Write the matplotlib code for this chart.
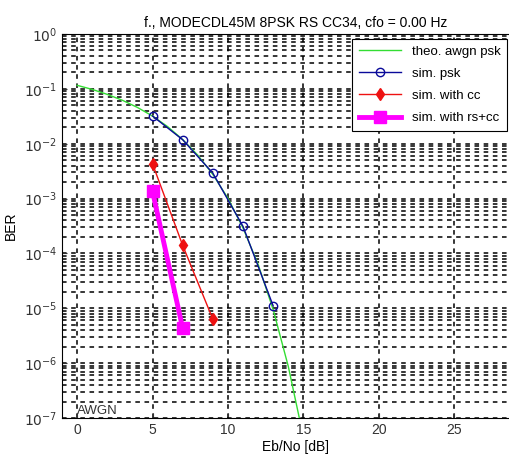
import numpy as np
import matplotlib
matplotlib.use('Agg')
import matplotlib.pyplot as plt
from matplotlib.ticker import FixedLocator, NullFormatter

plt.rcParams['font.family'] = ['Liberation Sans', 'DejaVu Sans']

# theoretical 8PSK in awgn
theo_x = [0, 1, 2, 3, 4, 5, 6, 7, 8, 9, 10, 11, 12, 13, 14, 15]
theo_ber = [0.116, 0.0977, 0.0793, 0.0619, 0.0458, 0.0319, 0.0205, 0.0119,
            0.00617, 0.00275, 0.00101, 2.9e-4, 6.3e-5, 9.4e-6, 8.7e-7, 4.5e-8]

psk_x = [5, 7, 9, 11, 13]
psk_ber = [0.032, 0.0118, 0.0029, 3.1e-4, 1.1e-5]

cc_x = [5, 7, 9]
cc_ber = [4.3e-3, 1.4e-4, 6.3e-6]

rscc_x = [5, 7]
rscc_ber = [1.35e-3, 4.3e-6]

decades = [-7, -6, -5, -4, -3, -2, -1, 0]

fig = plt.figure(figsize=(5.1, 4.58), dpi=100)
ax = fig.add_axes([0.1216, 0.0873, 0.917, 0.8385])

ax.semilogy(theo_x, theo_ber, '-', color='#33dd33', lw=1, label='theo. awgn psk')
ax.semilogy(psk_x, psk_ber, '-o', color='#0a0a9a', lw=1, ms=6,
            mfc='none', mew=1, label='sim. psk')
ax.semilogy(cc_x, cc_ber, '-d', color='#ee1111', lw=1, ms=6, label='sim. with cc')
ax.semilogy(rscc_x, rscc_ber, '-s', color='#ff00ff', lw=3.5, ms=8, label='sim. with rs+cc')

ax.set_xlim(-1, 30)
ax.set_ylim(1e-7, 1)
ax.set_xticks([0, 5, 10, 15, 20, 25])
ax.set_yticks([10.0 ** d for d in decades],
              ['$10^{%d}$' % d for d in decades])
minor = [m * 10.0 ** d for d in decades[:-1] for m in range(2, 10)]
ax.yaxis.set_minor_locator(FixedLocator(minor))
ax.yaxis.set_minor_formatter(NullFormatter())
ax.tick_params(direction='in', which='both', labelsize=10, colors='#333333')
ax.tick_params(axis='y', which='minor', length=2)

ax.grid(True, which='major', color='black', linestyle=(0, (3, 3)), lw=1.1)
ax.grid(True, which='minor', axis='y', color='black', linestyle=(0, (3, 3)), lw=1.1)

ax.set_title('f., MODECDL45M 8PSK RS CC34, cfo = 0.00 Hz', fontsize=10, pad=5)
ax.set_xlabel('Eb/No [dB]', fontsize=10, labelpad=2)
ax.set_ylabel('BER', fontsize=10)
ax.text(0, 1.2e-7, 'AWGN', fontsize=9.5, color='#333333')

leg = ax.legend(loc='upper right', bbox_to_anchor=(507 / 510, 1 - 39 / 458),
                bbox_transform=fig.transFigure, fancybox=False, framealpha=1,
                edgecolor='black', fontsize=9.5, borderpad=0.5,
                handlelength=3.2, labelspacing=0.75, borderaxespad=0)
leg.get_frame().set_linewidth(0.8)

fig.savefig('out.png', dpi=100)
